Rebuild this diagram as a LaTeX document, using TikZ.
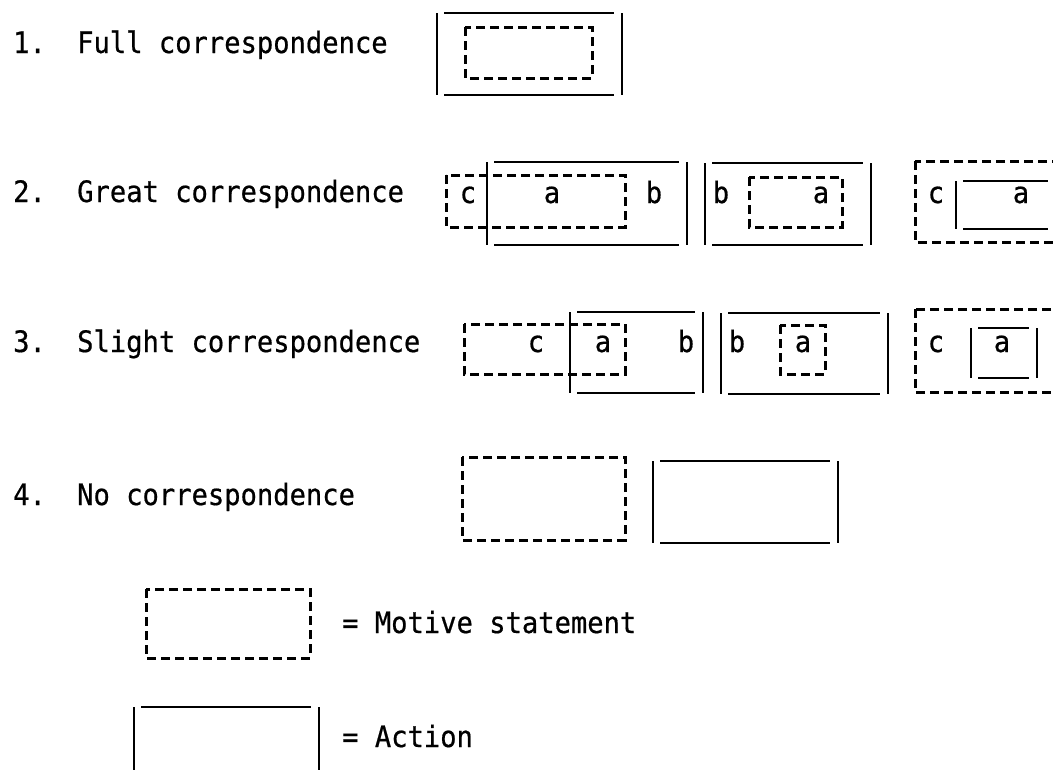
\documentclass[tikz,border=0pt]{standalone}
\usepackage{fontspec}
\setmainfont[FakeStretch=0.92,FakeBold=0.6]{DejaVu Sans Mono}
\newcommand{\actbox}[4]{%
  \draw[action] (#1,#2) -- (#1,#4) (#3,#2) -- (#3,#4)
    (#1+7,#2) -- (#3-8,#2) (#1+7,#4) -- (#3-8,#4);}
\newcommand{\motbox}[4]{\draw[motive] (#1,#2) rectangle (#3,#4);}
\begin{document}
\begin{tikzpicture}[x=1pt,y=-1pt,
  every node/.style={inner sep=0pt,font=\fontsize{29.5}{32}\selectfont},
  motive/.style={line width=3pt,dash pattern=on 9pt off 5pt},
  action/.style={line width=2.8pt},
  num/.style={anchor=base west},
  lab/.style={anchor=base}]
\useasboundingbox (0,0) rectangle (1053,769);
\clip (0,0) rectangle (1053,769);

\node[num] (n1) at (13,53) {1.};
\node[num] (full) at (77,53) {Full correspondence};
\node[num] (n2) at (13,202) {2.};
\node[num] (great) at (77,202) {Great correspondence};
\node[num] (n3) at (13,352) {3.};
\node[num] (slight) at (77,352) {Slight correspondence};
\node[num] (n4) at (13,505) {4.};
\node[num] (none) at (77,505) {No correspondence};

% 1
\actbox{437}{13}{622}{95}
\motbox{465}{27}{592}{78}

% 2
\motbox{446}{175}{625}{227}
\actbox{487}{162}{687}{245}
\node[lab] (c2a) at (468,203) {c};
\node[lab] (a2a) at (552,203) {a};
\node[lab] (b2a) at (654,203) {b};
\actbox{705}{163}{871}{245}
\motbox{749}{177}{842}{227}
\node[lab] (b2b) at (721,203) {b};
\node[lab] (a2b) at (821,203) {a};
\motbox{915}{161}{1075}{242}
\actbox{956}{181}{1056}{229}
\node[lab] (c2c) at (936,203) {c};
\node[lab] (a2c) at (1021,203) {a};

% 3
\motbox{464}{324}{625}{374}
\actbox{570}{312}{703}{393}
\node[lab] (c3a) at (536,352) {c};
\node[lab] (a3a) at (603,352) {a};
\node[lab] (b3a) at (686,352) {b};
\actbox{721}{313}{888}{394}
\motbox{780}{325}{825}{374}
\node[lab] (b3b) at (737,352) {b};
\node[lab] (a3b) at (803,352) {a};
\motbox{915}{309}{1075}{392}
\actbox{971}{328}{1037}{378}
\node[lab] (c3c) at (936,352) {c};
\node[lab] (a3c) at (1002,352) {a};

% 4
\motbox{462}{457}{625}{540}
\actbox{653}{461}{838}{543}

% key
\motbox{146}{589}{310}{658}
\node[num] (motive) at (342,633) {= Motive statement};
\actbox{134}{707}{319}{800}
\node[num] (action) at (342,747) {= Action};
\end{tikzpicture}
\end{document}
